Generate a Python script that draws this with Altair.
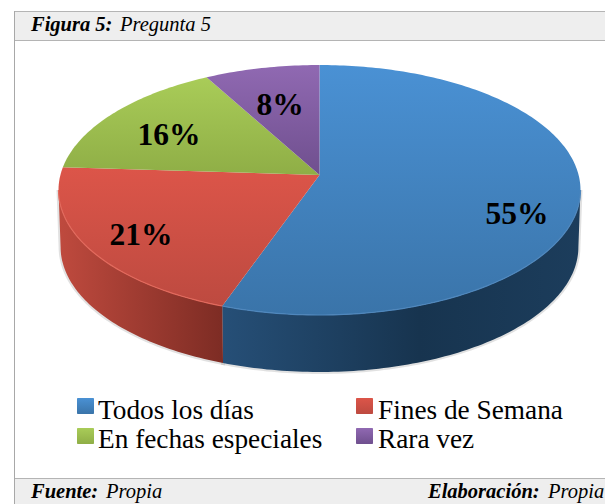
import math
import altair as alt

# --- values ---
categories = ["Todos los días", "Fines de Semana", "En fechas especiales", "Rara vez"]
shares = [55.4, 20.6, 16.0, 8.0]
percent_labels = ["55%", "21%", "16%", "8%"]
caption_bold = "Figura 5:"
caption_text = "Pregunta 5"
source_bold = "Fuente:"
source_text = "Propia"
author_bold = "Elaboración:"
author_text = "Propia"

# --- styling / layout (page pixels) ---
W, H, M = 597, 496, 8
TOP = [("#4a91d4", "#3a74a9"), ("#dc5549", "#bd4a40"), ("#a9cc58", "#8fae46"), ("#9069b2", "#6f4f8e")]
CX, AY, A, B, K, DEPTH = 319.5, 175.0, 259.1, 123.2, 0.12, 57.0
SERIF = "Liberation Serif"
RIGHT, BOTTOM = M + W, M + H


def proj(deg, f=1.0, dy=0.0):
    t = math.radians(deg)
    w = 1 + K * math.cos(t)
    return [CX + f * A * math.sin(t) / w, AY - B * math.cos(t) / w + dy]


def feature(points):
    return {"type": "Feature", "properties": {},
            "geometry": {"type": "Polygon", "coordinates": [points + [points[0]]]}}


def line_feature(points):
    return {"type": "Feature", "properties": {},
            "geometry": {"type": "LineString", "coordinates": points}}


def sweep(a, b, step=1.0, **kw):
    n = max(2, int(abs(b - a) / step))
    return [proj(a + (b - a) * i / n, **kw) for i in range(n + 1)]


identity = alt.Projection(type="identity", scale=1, translate=[-M, -M])


def shape(feat, **mark):
    return alt.Chart(alt.Data(values=[feat])).mark_geoshape(**mark).project(**identity.to_dict())


def vgrad(c1, c2):
    return alt.Gradient(gradient="linear", x1=0, y1=0, x2=0, y2=1,
                        stops=[alt.GradientStop(color=c1, offset=0), alt.GradientStop(color=c2, offset=1)])


def hgrad(*stops):
    return alt.Gradient(gradient="linear", x1=0, y1=0, x2=1, y2=0,
                        stops=[alt.GradientStop(color=c, offset=o) for c, o in stops])


def rects(rows, **mark):
    return alt.Chart(alt.Data(values=rows)).mark_rect(**mark).encode(
        x=alt.X("x:Q", scale=None, axis=None), x2="x2:Q",
        y=alt.Y("y:Q", scale=None, axis=None), y2="y2:Q")


def box(x, y, x2, y2):
    return {"x": x - M, "y": y - M, "x2": x2 - M, "y2": y2 - M}


def text(label, x, y, size, align="left", **mark):
    return alt.Chart(alt.Data(values=[{"t": label, "x": x - M, "y": y - M}])).mark_text(
        font=SERIF, fontSize=size, align=align, baseline="alphabetic", color="#000000", **mark
    ).encode(x=alt.X("x:Q", scale=None, axis=None), y=alt.Y("y:Q", scale=None, axis=None), text="t:N")


# cumulative angles, clockwise from the top
angles = [0.0]
for s in shares:
    angles.append(angles[-1] + s / sum(shares) * 360)

layers = []

# frame
layers.append(rects([box(15, 11, RIGHT, 40), box(15, 478, RIGHT, BOTTOM)], fill="#eeeeee"))
layers.append(rects([box(14, 11, RIGHT, 12), box(14, 40, RIGHT, 41), box(14, 478, RIGHT, 479)], fill="#b4b4b4"))
layers.append(rects([box(14, 11, 15, BOTTOM)], fill="#a8a8a8"))

# side wall
EDGE = math.degrees(math.acos(-K))
wall_sets = [
    (EDGE, angles[1], hgrad(("#264f77", 0), ("#17344f", 0.55), ("#1c3d5c", 1))),
    (angles[1], 360 - EDGE, hgrad(("#bf4a3e", 0), ("#7d2c24", 1))),
]
for a, b, fill in wall_sets:
    pts = sweep(a, b) + sweep(b, a, f=0.992, dy=DEPTH)
    layers.append(shape(feature(pts), fill="#000000", fillOpacity=0, stroke="#888888", strokeOpacity=0.25, strokeWidth=4))
for a, b, fill in wall_sets:
    pts = sweep(a, b) + sweep(b, a, f=0.992, dy=DEPTH)
    layers.append(shape(feature(pts), fill=fill))

# top face
for i, (c1, c2) in enumerate(TOP):
    pts = [[CX, AY]] + sweep(angles[i], angles[i + 1])
    layers.append(shape(feature(pts), fill=vgrad(c1, c2)))

# lighter rim along the front edge of the top face
layers.append(shape(line_feature(sweep(EDGE, angles[1])), filled=False, stroke="#4f87bd", strokeWidth=1.2))
layers.append(shape(line_feature(sweep(angles[1], 360 - EDGE)), filled=False, stroke="#e2695c", strokeWidth=1.2))

# percentage labels
label_at = [(517, 224), (141, 245), (169, 145), (280, 115)]
for lab, (x, y) in zip(percent_labels, label_at):
    layers.append(text(lab, x, y, 31.5, align="center", fontWeight="bold"))

# legend
swatch_at = [(77, 398), (356, 398), (77, 428), (356, 428)]
text_at = [(98, 419), (378, 419), (98, 448), (378, 448)]
for i, cat in enumerate(categories):
    sx, sy = swatch_at[i]
    layers.append(rects([box(sx, sy, sx + 17, sy + 16)], fill=vgrad(TOP[i][0], TOP[i][1]), cornerRadius=1))
    layers.append(text(cat, text_at[i][0], text_at[i][1], 27.3))

# caption and footer
layers.append(text(caption_bold, 31, 31, 20.5, fontWeight="bold", fontStyle="italic"))
layers.append(text(caption_text, 120, 31, 20.5, fontStyle="italic"))
layers.append(text(source_bold, 31, 498, 20.5, fontWeight="bold", fontStyle="italic"))
layers.append(text(source_text, 106, 498, 20.5, fontStyle="italic"))
layers.append(text(author_bold, 428, 498, 20.5, fontWeight="bold", fontStyle="italic"))
layers.append(text(author_text, 548, 498, 20.5, fontStyle="italic"))

chart = alt.layer(*layers).properties(
    width=W, height=H, padding=0, background="#ffffff",
    autosize=alt.AutoSizeParams(type="none", contains="padding"),
).configure_view(stroke=None)
chart.save("out.html", embed_options={"renderer": "svg", "actions": False})
